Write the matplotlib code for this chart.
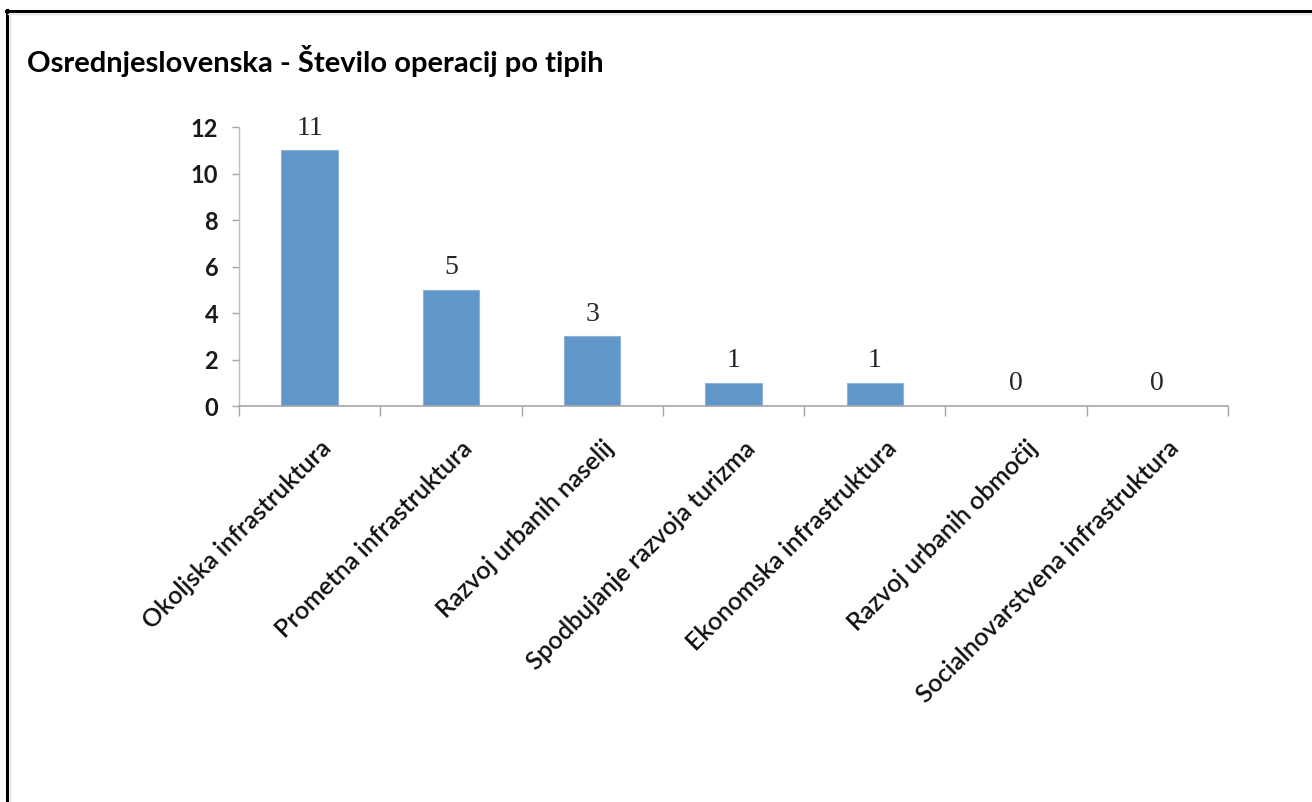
import numpy as np
import matplotlib
matplotlib.use("Agg")
import matplotlib.pyplot as plt
from matplotlib.lines import Line2D

categories = ["Okoljska infrastruktura", "Prometna infrastruktura", "Razvoj urbanih naselij",
              "Spodbujanje razvoja turizma", "Ekonomska infrastruktura",
              "Razvoj urbanih območij", "Socialnovarstvena infrastruktura"]
values = [11, 5, 3, 1, 1, 0, 0]
yticks = [0, 2, 4, 6, 8, 10, 12]
title = "Osrednjeslovenska - Število operacij po tipih"

plt.rcParams['font.family'] = ['Lato', 'DejaVu Sans']

fig = plt.figure(figsize=(13.12, 8.02), dpi=100)
ax = fig.add_axes([239/1312, 1 - 406/802, (1228 - 239)/1312, (406 - 127)/802])

x = np.arange(len(categories))
ax.bar(x, values, width=0.4, color='#6096C8', edgecolor='#8DB3DA', linewidth=0.8, zorder=2)

for xi, v in zip(x, values):
    ax.annotate(str(v), (xi, v), xytext=(0, 7), textcoords='offset points',
                ha='center', va='bottom', fontsize=20, color='#262626',
                family=['Liberation Serif', 'DejaVu Serif'])

ax.set_xlim(-0.5, len(categories) - 0.5)
ax.set_ylim(0, 12)
ax.set_yticks(yticks)
ax.set_yticklabels([str(t) for t in yticks], fontsize=17, fontweight='bold', color='#1a1a1a')

# category boundaries get the tick marks, labels sit at the centres
ax.set_xticks(np.arange(-0.5, len(categories), 1.0))
ax.set_xticklabels([])
ax.tick_params(axis='x', which='major', length=7, color='#A6A6A6', width=1)
ax.tick_params(axis='y', length=5, color='#A6A6A6', width=1, pad=10)

for xi, lab in zip(x, categories):
    ax.annotate(lab, (xi, 0), xytext=(7, -22), textcoords='offset points',
                rotation=45, rotation_mode='anchor', ha='right', va='top',
                fontsize=18, fontweight='semibold', color='#111111')

for s in ['top', 'right']:
    ax.spines[s].set_visible(False)
ax.spines['left'].set_color('#BFBFBF')
ax.spines['bottom'].set_color('#A6A6A6')
ax.spines['left'].set_linewidth(1)
ax.spines['bottom'].set_linewidth(1.2)

fig.text(27/1312, 1 - 61/802, title, fontsize=21, fontweight='bold', color='#000000',
         ha='left', va='center')

# frame lines on top and left
fig.add_artist(Line2D([6/1312, 1], [1 - 11/802, 1 - 11/802], color='black', linewidth=2.2,
                      transform=fig.transFigure))
fig.add_artist(Line2D([7/1312, 7/1312], [0, 1 - 10/802], color='black', linewidth=2.2,
                      transform=fig.transFigure))
fig.add_artist(Line2D([8/1312, 1], [1 - 13.5/802, 1 - 13.5/802], color='#E0E0E0', linewidth=1,
                      transform=fig.transFigure))
fig.add_artist(Line2D([9.5/1312, 9.5/1312], [0, 1 - 13/802], color='#E0E0E0', linewidth=1,
                      transform=fig.transFigure))

fig.savefig("out.png", dpi=100)
